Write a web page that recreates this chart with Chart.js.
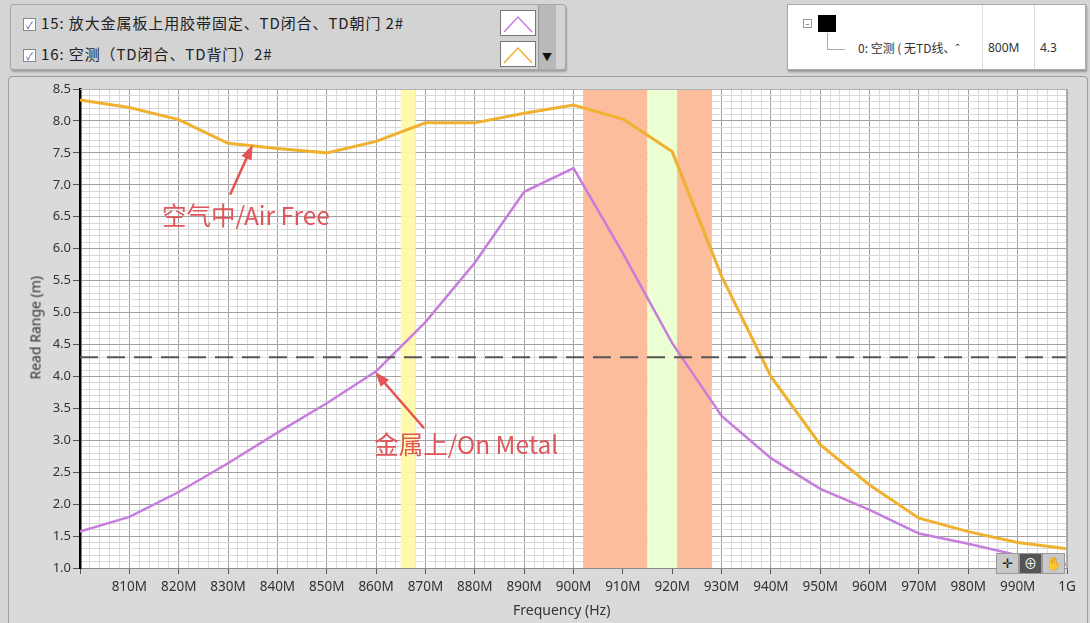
<!DOCTYPE html>
<html><head><meta charset="utf-8">
<script src="https://cdn.jsdelivr.net/npm/chart.js@4.4.0/dist/chart.umd.min.js"></script>
<style>
html,body{margin:0;padding:0;width:1090px;height:623px;overflow:hidden;background:#d5d5d5;font-family:"Noto Sans","Noto Sans CJK SC",sans-serif;}
.abs{position:absolute;}
#legendPanel{left:10px;top:4px;width:554px;height:64px;background:#d3d3d3;border:1px solid #a8a8a8;border-radius:3px;box-shadow:1px 2px 2px rgba(0,0,0,0.25);}
.row{position:absolute;left:12px;font-family:"Noto Sans CJK SC",sans-serif;font-size:15px;color:#222;white-space:nowrap;letter-spacing:0.9px;}
.cb{display:inline-block;width:11px;height:11px;border:1px solid #8a8a8a;background:#fff;font-size:10px;line-height:11px;text-align:center;color:#3355aa;vertical-align:middle;margin-right:5px;letter-spacing:0;}
.sw{position:absolute;left:489px;width:34px;height:24px;background:#fff;border:1px solid #777;}
#scroll{left:527px;top:0px;width:17px;height:64px;background:#b9b9b9;border-left:1px solid #999;}
#cursorPanel{left:787px;top:4px;width:297px;height:64px;background:#fff;border:1px solid #aaa;box-shadow:1px 2px 2px rgba(0,0,0,0.3);font-size:12px;color:#333;}
#plotPanel{left:8px;top:76px;width:1078px;height:550px;background:#dadada;border:1px solid #9c9c9c;border-radius:4px;}
#chartWrap{left:10px;top:82px;width:1077px;height:540px;}
.axTitle{font-size:14px;color:#333;white-space:nowrap;}
.btn{position:absolute;top:553px;height:19px;width:21px;background:#c8c8c8;border:1px solid #999;font-size:13px;line-height:19px;text-align:center;color:#222;}
</style></head>
<body>
<div id="legendPanel" class="abs">
  <div class="row" style="top:7px;"><span class="cb">✓</span>15: 放大金属板上用胶带固定、TD闭合、TD朝门 2#</div>
  <div class="row" style="top:38px;"><span class="cb">✓</span>16: 空测（TD闭合、TD背门）2#</div>
  <div class="sw" style="top:5px;"><svg width="34" height="24"><polyline points="3,21 17,6 31,21" fill="none" stroke="#c77ddb" stroke-width="1.5"/></svg></div>
  <div class="sw" style="top:36px;"><svg width="34" height="24"><polyline points="3,21 17,6 31,21" fill="none" stroke="#f0b030" stroke-width="1.5"/></svg></div>
  <div id="scroll" class="abs"><div style="position:absolute;left:3px;top:44px;font-size:10px;color:#111;">▼</div></div>
</div>
<div id="cursorPanel" class="abs">
  <div class="abs" style="left:15px;top:14px;width:7px;height:7px;border:1px solid #999;font-size:8px;line-height:7px;text-align:center;color:#666;">−</div>
  <div class="abs" style="left:30px;top:10px;width:18px;height:17px;background:#000;"></div>
  <div class="abs" style="left:39px;top:28px;width:1px;height:16px;background:#aaa;"></div>
  <div class="abs" style="left:39px;top:44px;width:18px;height:1px;background:#aaa;"></div>
  <div class="abs" style="left:70px;top:34px;font-family:'Noto Sans CJK SC';font-size:12px;white-space:nowrap;">0: 空测 ( 无TD线、ˆ</div>
  <div class="abs" style="left:194px;top:0;width:1px;height:64px;background:#ddd;"></div>
  <div class="abs" style="left:200px;top:34px;">800M</div>
  <div class="abs" style="left:246px;top:0;width:1px;height:64px;background:#ddd;"></div>
  <div class="abs" style="left:252px;top:34px;">4.3</div>
</div>
<div id="plotPanel" class="abs"></div>
<div id="chartWrap" class="abs"><canvas id="c" width="1077" height="540"></canvas></div>
<div class="abs axTitle" style="left:513px;top:600px;">Frequency (Hz)</div>
<div class="abs axTitle" style="left:-15px;top:320px;transform:rotate(-90deg);transform-origin:center;width:100px;text-align:center;">Read Range (m)</div>
<div class="btn" style="left:996px;">✛</div>
<div class="btn" style="left:1019px;background:#555;color:#fff;">⊕</div>
<div class="btn" style="left:1042px;">✋</div>
<script>
// ---- data ----
const freqs = [800,810,820,830,840,850,860,870,880,890,900,910,920,930,940,950,960,970,980,990,1000];
const airFree = [8.33,8.21,8.02,7.65,7.57,7.50,7.68,7.97,7.97,8.12,8.25,8.03,7.52,5.57,4.00,2.93,2.30,1.78,1.57,1.40,1.30];
const onMetal = [1.57,1.80,2.19,2.64,3.12,3.58,4.08,4.85,5.78,6.89,7.26,5.93,4.52,3.38,2.72,2.24,1.91,1.54,1.38,1.20,1.05];
const cursorValue = [4.3];
const seriesNames = ['空气中/Air Free','金属上/On Metal'];
const xTickLabels = ['', '810M','820M','830M','840M','850M','860M','870M','880M','890M','900M','910M','920M','930M','940M','950M','960M','970M','980M','990M','1G'];
const yTickLabels = ['1.0','1.5','2.0','2.5','3.0','3.5','4.0','4.5','5.0','5.5','6.0','6.5','7.0','7.5','8.0','8.5'];
const bandStart = [865, 902, 915, 921];
const bandEnd   = [868, 915, 921, 928];

// ---- styles ----
const bandFill = ['rgba(255,250,170,0.95)','#fbbd9c','#ecffd2','#fbbd9c'];
const annot = [
  {text: seriesNames[0], at:[816.6, 6.52], tip:[835.0, 7.63], tail:[830.5, 6.86]},
  {text: seriesNames[1], at:[859.6, 2.93], tip:[859.8, 4.07], tail:[869.6, 3.20]}
];

const bandsPlugin = {
  id:'bands',
  beforeDraw(chart){
    const {ctx, chartArea:a} = chart;
    ctx.save(); ctx.fillStyle='#ffffff';
    ctx.fillRect(a.left, a.top, a.right-a.left, a.bottom-a.top);
    ctx.restore();
  },
  beforeDatasetsDraw(chart){
    const {ctx, chartArea:a, scales:{x}} = chart;
    ctx.save();
    for(let i=0;i<bandStart.length;i++){
      const x0 = x.getPixelForValue(bandStart[i]), x1 = x.getPixelForValue(bandEnd[i]);
      ctx.fillStyle = bandFill[i];
      ctx.fillRect(x0, a.top, x1-x0, a.bottom-a.top);
    }
    ctx.restore();
  },
  afterDatasetsDraw(chart){
    const {ctx, chartArea:a, scales:{x,y}} = chart;
    ctx.save();
    ctx.strokeStyle='#b0b0b0'; ctx.lineWidth=1;
    ctx.beginPath(); ctx.moveTo(a.left, a.top+0.5); ctx.lineTo(a.right-0.5, a.top+0.5); ctx.lineTo(a.right-0.5, a.bottom); ctx.stroke();
    const red = 'rgba(226,72,72,0.92)';
    for(const an of annot){
      const tx = x.getPixelForValue(an.tip[0]), ty = y.getPixelForValue(an.tip[1]);
      const sx = x.getPixelForValue(an.tail[0]), sy = y.getPixelForValue(an.tail[1]);
      const ang = Math.atan2(ty-sy, tx-sx);
      const hl = 15, hw = 5.5;
      const bx = tx - hl*Math.cos(ang), by = ty - hl*Math.sin(ang);
      ctx.strokeStyle = red; ctx.lineWidth = 2.6; ctx.lineCap='round';
      ctx.beginPath(); ctx.moveTo(sx,sy); ctx.lineTo(bx,by); ctx.stroke();
      ctx.fillStyle = red;
      ctx.beginPath();
      ctx.moveTo(tx,ty);
      ctx.lineTo(bx + hw*Math.sin(ang), by - hw*Math.cos(ang));
      ctx.lineTo(bx - hw*Math.sin(ang), by + hw*Math.cos(ang));
      ctx.closePath(); ctx.fill();
      ctx.font = '24.5px "Noto Sans CJK SC", "Noto Sans", sans-serif';
      ctx.textBaseline = 'middle'; ctx.textAlign='left';
      ctx.fillStyle = 'rgba(222,78,82,0.95)';
      ctx.fillText(an.text, x.getPixelForValue(an.at[0]), y.getPixelForValue(an.at[1]));
    }
    ctx.restore();
  }
};

const isMajorX = v => Math.abs(v/10 - Math.round(v/10)) < 1e-6;
const isMajorY = v => Math.abs(v*2 - Math.round(v*2)) < 1e-6;

new Chart(document.getElementById('c'), {
  type:'line',
  data:{
    datasets:[
      {label:seriesNames[0], data:freqs.map((f,i)=>({x:f,y:airFree[i]})), borderColor:'#f0b030', borderWidth:3, pointRadius:0, tension:0, order:2},
      {label:seriesNames[1], data:freqs.map((f,i)=>({x:f,y:onMetal[i]})), borderColor:'#c77ddb', borderWidth:2.5, pointRadius:0, tension:0, order:1},
      {label:'cursor', data:[{x:freqs[0],y:cursorValue[0]},{x:freqs[freqs.length-1],y:cursorValue[0]}], borderColor:'#555', borderWidth:2, borderDash:[18,9], pointRadius:0, order:0}
    ]
  },
  options:{
    responsive:false, animation:false,
    layout:{padding:{top:7,right:20,left:0,bottom:0}},
    plugins:{legend:{display:false}, tooltip:{enabled:false}},
    scales:{
      x:{type:'linear', min:800, max:1000,
        afterFit(s){ s.height=54; s.paddingLeft=0; s.paddingRight=0; s.paddingTop=0; s.paddingBottom=0; },
        ticks:{stepSize:2, autoSkip:false, maxRotation:0, minRotation:0, color:'#333', padding:5,
          font:{size:13.5, family:'"Noto Sans", sans-serif'},
          callback:(v)=> isMajorX(v) ? xTickLabels[Math.round((v-800)/10)] : ''},
        grid:{color:c=> isMajorX(c.tick.value)?'#a2a2a2':'#d9d9d9', lineWidth:1, tickLength:6,
          tickColor:c=> isMajorX(c.tick.value)?'#555':'rgba(0,0,0,0)'},
        border:{color:'#8a8a8a', width:1}
      },
      y:{min:1, max:8.5,
        afterFit(s){ s.width=70; s.paddingLeft=0; s.paddingRight=0; s.paddingTop=0; s.paddingBottom=0; },
        ticks:{stepSize:0.1, autoSkip:false, color:'#333', padding:2,
          font:{size:13, family:'"Noto Sans", sans-serif'},
          callback:(v)=> isMajorY(v) ? yTickLabels[Math.round((v-1)*2)] : ''},
        grid:{color:c=> isMajorY(c.tick.value)?'#a2a2a2':'#d9d9d9', lineWidth:1, tickLength:7,
          tickColor:c=> isMajorY(c.tick.value)?'#555':'rgba(0,0,0,0)'},
        border:{color:'#000', width:2.5}
      }
    }
  },
  plugins:[bandsPlugin]
});
</script>
</body></html>
